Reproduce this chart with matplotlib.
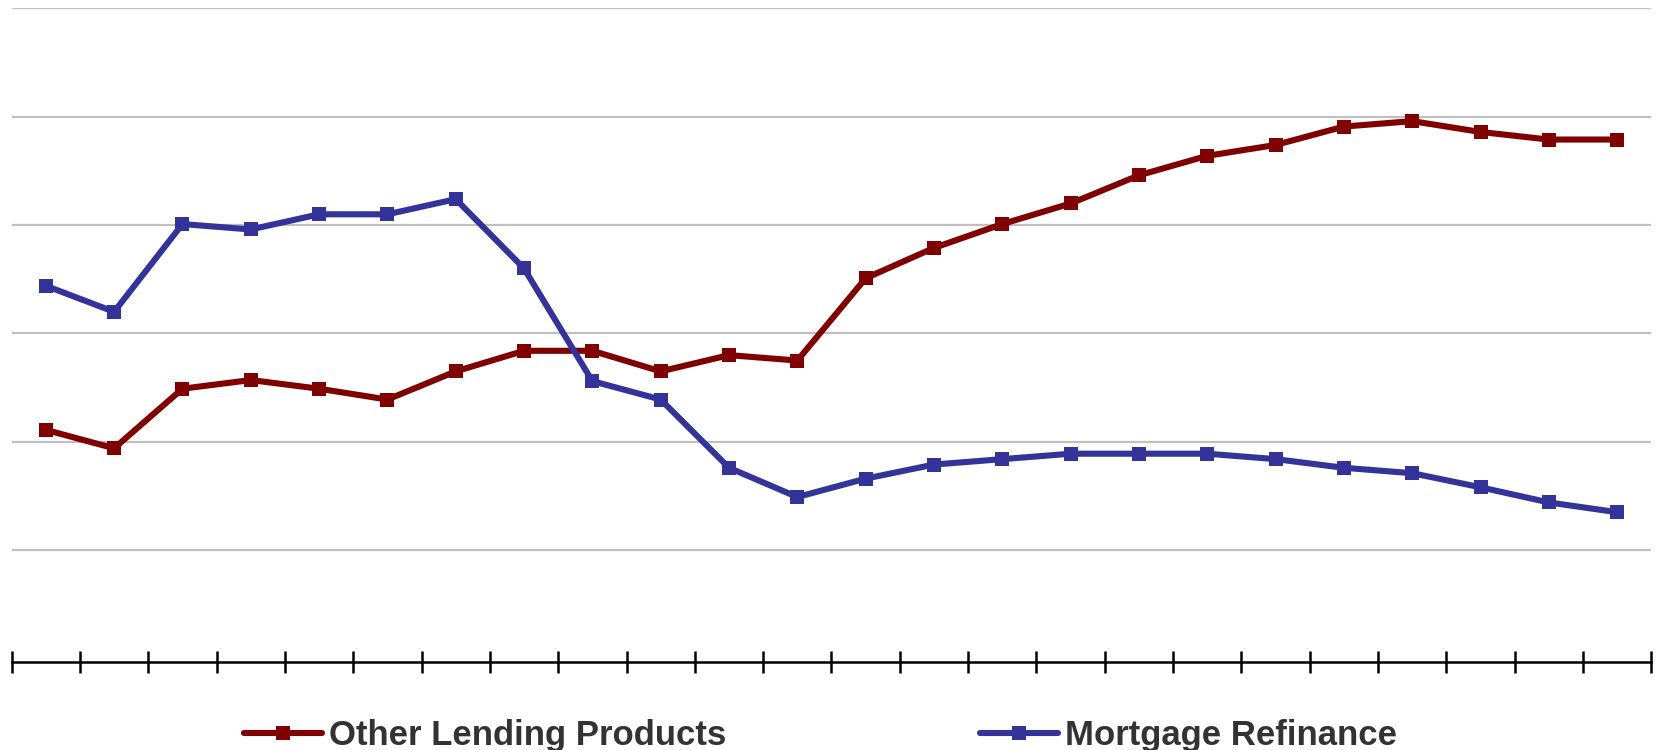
import matplotlib.pyplot as plt
import numpy as np

plt.rcParams['font.family'] = ['Liberation Sans', 'DejaVu Sans']

# ── Series values (24 periods, share units on a 0–6 scale) ────────────────────
periods = np.arange(1, 25)
other_lending = [2.11, 1.94, 2.49, 2.57, 2.49, 2.39, 2.65, 2.84, 2.84, 2.65,
                 2.80, 2.75, 3.51, 3.79, 4.01, 4.20, 4.46, 4.64, 4.74, 4.91,
                 4.96, 4.86, 4.79, 4.79]
mortgage_refi = [3.44, 3.20, 4.01, 3.96, 4.10, 4.10, 4.24, 3.60, 2.56, 2.39,
                 1.76, 1.49, 1.66, 1.79, 1.84, 1.89, 1.89, 1.89, 1.84, 1.76,
                 1.71, 1.58, 1.44, 1.35]
series_names = ["Other Lending Products", "Mortgage Refinance"]
series_colors = ["#800000", "#333399"]

# ── Figure ────────────────────────────────────────────────────────────────────
fig = plt.figure(figsize=(16.62, 7.5), dpi=100)
ax = fig.add_axes([0.007, 0.117, 0.9866, 0.8717])

for vals, name, col in zip([other_lending, mortgage_refi], series_names, series_colors):
    ax.plot(periods, vals, color=col, linewidth=4.4, marker="s",
            markersize=10.5, markeredgewidth=0, label=name, zorder=3,
            solid_capstyle="round", solid_joinstyle="round")

ax.set_xlim(0.5, 24.5)
ax.set_ylim(-0.035, 6)

# horizontal gridlines only
ax.set_yticks(np.arange(1, 7))
ax.yaxis.grid(True, color="#c0c0c0", linewidth=1.6)
ax.tick_params(axis="y", left=False, labelleft=False)

# category boundary ticks crossing the axis line
ax.set_xticks(np.arange(0.5, 25, 1))
ax.tick_params(axis="x", direction="inout", length=16, width=1.8,
               color="black", labelbottom=False)

for side in ["top", "left", "right"]:
    ax.spines[side].set_visible(False)
ax.spines["bottom"].set_linewidth(1.8)
ax.spines["bottom"].set_color("black")

leg = fig.legend(loc="center", bbox_to_anchor=(0.4936, 0.019), ncol=2,
                 frameon=False, fontsize=25, handlelength=2.25,
                 handletextpad=0.2, columnspacing=7.3)
for txt in leg.get_texts():
    txt.set_color("#333333")
    txt.set_fontweight("bold")

fig.savefig("out.png", dpi=100)
